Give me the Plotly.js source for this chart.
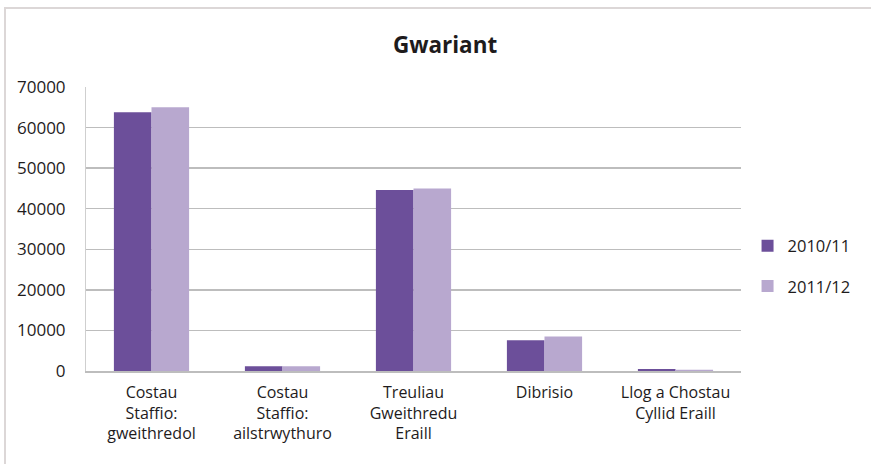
<!DOCTYPE html>
<html>
<head>
<meta charset="utf-8">
<script src="https://cdn.plot.ly/plotly-3.0.1.min.js"></script>
<style>
  html, body { margin: 0; padding: 0; background: #ffffff; }
  #chart { width: 871px; height: 464px; }
  #frame { position: absolute; left: 4px; top: 7px; width: 900px; height: 500px;
           border-left: 2px solid #dcd7d7; border-top: 2px solid #dcd7d7; pointer-events: none; }
</style>
</head>
<body>
<div id="chart"></div>
<div id="frame"></div>
<script>
const categories = [
  "Costau<br>Staffio:<br>gweithredol",
  "Costau<br>Staffio:<br>ailstrwythuro",
  "Treuliau<br>Gweithredu<br>Eraill",
  "Dibrisio",
  "Llog a Chostau<br>Cyllid Eraill"
];
const series2010 = [63800, 1200, 44600, 7600, 500];
const series2011 = [65000, 1200, 45000, 8500, 300];
const seriesNames = ["2010/11", "2011/12"];
const yTicks = [0, 10000, 20000, 30000, 40000, 50000, 60000, 70000];

const family = "Open Sans, Liberation Sans, sans-serif";
const textColor = "#1e1b1c";
const xFont = { family: family, size: 16, color: textColor };
const yFont = { family: family, size: 17, color: textColor };
const legFont = { family: family, size: 16.5, color: textColor };

const traces = [
  { type: "bar", name: seriesNames[0], x: categories, y: series2010,
    marker: { color: "#6c4f9a" }, legendgroup: "a" },
  { type: "bar", name: seriesNames[1], x: categories, y: series2011,
    marker: { color: "#b8a8cf" }, legendgroup: "b" }
];

const layout = {
  width: 871, height: 464,
  margin: { l: 86, r: 130, t: 87, b: 93 },
  paper_bgcolor: "#ffffff", plot_bgcolor: "#ffffff",
  font: xFont,
  barmode: "group", bargap: 0.426, bargroupgap: 0,
  title: { text: "<b>Gwariant</b>", font: { family: family, size: 22.5, color: textColor, weight: 800 },
           xref: "container", x: 0.511, xanchor: "center", yref: "container", y: 0.903, yanchor: "middle" },
  xaxis: { type: "category", showgrid: false, showline: true, linecolor: "#bdbdbd", linewidth: 1.5,
           ticks: "outside", ticklen: 6, tickcolor: "rgba(0,0,0,0)", tickfont: xFont, fixedrange: true },
  yaxis: { range: [0, 70000], tickvals: yTicks, ticktext: yTicks.map(String),
           showgrid: true, gridcolor: "#bdbdbd", gridwidth: 1.3,
           zeroline: false, showline: true, linecolor: "#cfcfcf", linewidth: 1,
           ticks: "outside", ticklen: 16, tickcolor: "rgba(0,0,0,0)", tickfont: yFont, fixedrange: true },
  legend: { x: 1.01, xanchor: "left", y: 0.37, yanchor: "middle", font: legFont,
            tracegroupgap: 16, bgcolor: "rgba(0,0,0,0)" },
  showlegend: true
};

Plotly.newPlot("chart", traces, layout, { displayModeBar: false, staticPlot: true });
</script>
</body>
</html>
